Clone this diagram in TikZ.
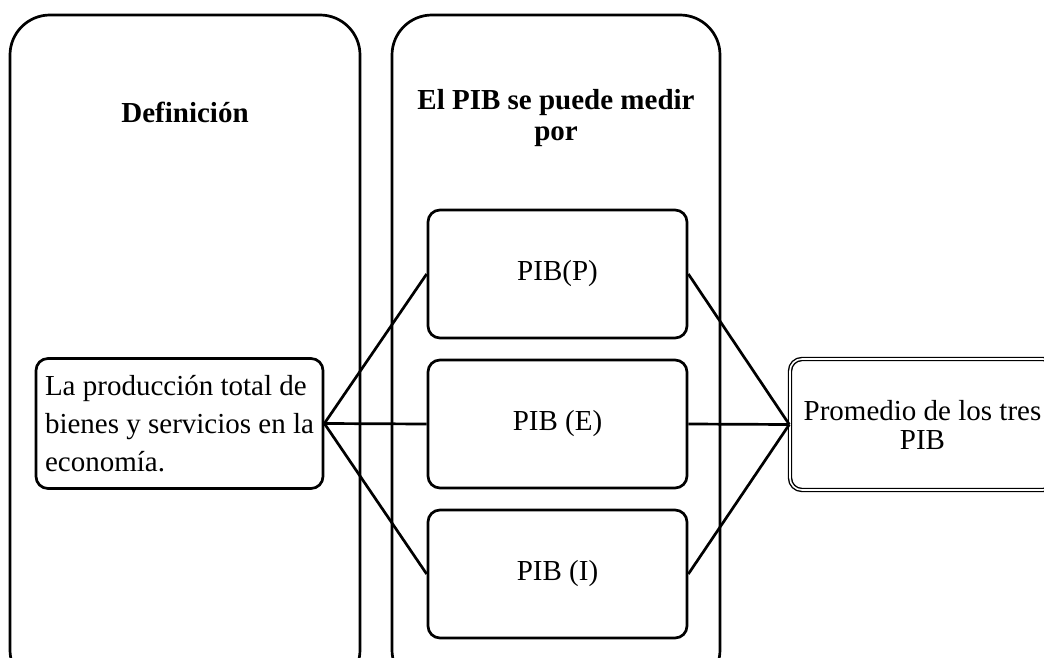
\documentclass[tikz,border=0pt]{standalone}
\usepackage{fontspec}
\setmainfont{Liberation Serif}

\tikzset{
  colbox/.style={draw,rounded corners=20pt,minimum width=175pt,minimum height=337.5pt,inner sep=0pt},
  itembox/.style={draw,rounded corners=6pt,minimum width=129.5pt,minimum height=64pt,inner sep=0pt,
    font=\fontsize{14.5}{19}\selectfont},
  headtext/.style={align=center,font=\fontsize{14.5}{15.5}\selectfont\bfseries}
}

\begin{document}
\begin{tikzpicture}[x=0.5pt,y=-0.5pt,line width=1.35pt]
\clip (0,0) rectangle (1044,658);
\path (185,352.5) node[colbox] (coldef) {}
		(556,352.5) node[colbox,minimum width=164pt] (colpib) {}
		(185,112) node[headtext] (def) {Definición}
		(556,118) node[headtext] (medir) {El PIB se puede medir\\por}
		(179.5,423.5) node[itembox,minimum width=143.5pt,minimum height=65pt,align=left] (prod) {La producción total de\\bienes y servicios en la\\economía.}
		(557.5,274) node[itembox,align=center] (pibp) {PIB(P)}
		(557.5,424) node[itembox,align=center] (pibe) {PIB (E)}
		(557.5,574) node[itembox,align=center] (pibi) {PIB (I)}
		(922.5,424.5) node[itembox,align=center,minimum width=132.5pt,minimum height=65.5pt,line width=0.7pt,double,double distance=0.8pt,
		  font=\fontsize{14.5}{14.5}\selectfont] (prom) {Promedio de los tres\\PIB}
		;
\draw (prod.east) -- (pibp.west);
\draw (prod.east) -- (pibe.west);
\draw (prod.east) -- (pibi.west);
\draw (pibp.east) -- (prom.west);
\draw (pibe.east) -- (prom.west);
\draw (pibi.east) -- (prom.west);
\end{tikzpicture}
\end{document}
